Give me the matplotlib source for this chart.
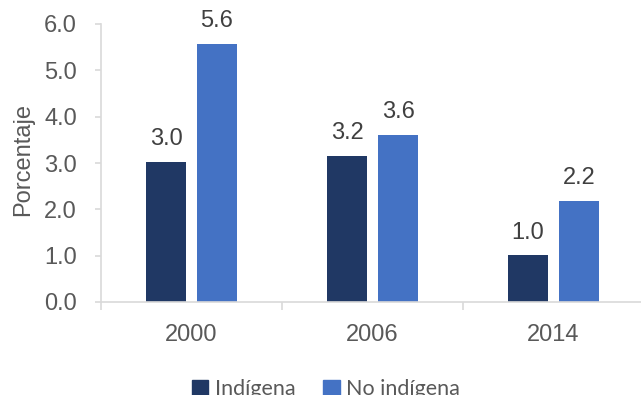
import numpy as np
import matplotlib.pyplot as plt
from matplotlib.patches import Patch

# data
years = ["2000", "2006", "2014"]
indigena = [3.02, 3.16, 1.01]
no_indigena = [5.57, 3.61, 2.18]
series_names = ["Indígena", "No indígena"]

dark = "#203864"
light = "#4472C4"
grid_gray = "#D9D9D9"
label_gray = "#595959"
value_gray = "#404040"

plt.rcParams["font.family"] = ["Liberation Sans", "DejaVu Sans"]

fig = plt.figure(figsize=(6.41, 3.95), dpi=100)
ax = fig.add_axes([101 / 641, 93 / 395, 543 / 641, 278 / 395])

x = np.arange(len(years))
width = 0.22
offset = 0.141

bars1 = ax.bar(x - offset, indigena, width, color=dark)
bars2 = ax.bar(x + offset, no_indigena, width, color=light)

for bars in (bars1, bars2):
    for b in bars:
        ax.annotate(
            f"{b.get_height():.1f}",
            (b.get_x() + b.get_width() / 2, b.get_height()),
            xytext=(0, 12), textcoords="offset points",
            ha="center", va="baseline",
            fontsize=17, color=value_gray,
        )

ax.set_xlim(-0.5, 2.5)
ax.set_ylim(0, 6)
ax.set_yticks(np.arange(0, 7, 1))
ax.set_yticklabels([f"{v:.1f}" for v in np.arange(0, 7, 1)])
ax.set_xticks(x)
ax.set_xticklabels(years)
ax.set_xticks([-0.5, 0.5, 1.5, 2.5], minor=True)

for side in ("top", "right"):
    ax.spines[side].set_visible(False)
for side in ("left", "bottom"):
    ax.spines[side].set_color(grid_gray)
    ax.spines[side].set_linewidth(1.2)

ax.tick_params(axis="y", length=4.3, width=1.2, color=grid_gray,
               labelsize=17, labelcolor=label_gray, pad=13)
ax.tick_params(axis="x", which="major", length=0,
               labelsize=17, labelcolor=label_gray, pad=16)
ax.tick_params(axis="x", which="minor", length=5.8, width=1.2,
               color=grid_gray)

fig.text(23 / 641, 1 - 160 / 395, "Porcentaje", rotation=90,
         ha="center", va="center", fontsize=17, color=label_gray)

handles = [Patch(color=dark), Patch(color=light)]
fig.legend(
    handles, series_names,
    loc="center", bbox_to_anchor=(326 / 641, 1 - 389 / 395),
    ncol=2, frameon=False,
    prop={"family": "Lato", "size": 15.5},
    labelcolor=label_gray,
    handlelength=0.75, handleheight=0.75,
    handletextpad=0.3, columnspacing=1.3,
)

fig.savefig("out.png", dpi=100)
